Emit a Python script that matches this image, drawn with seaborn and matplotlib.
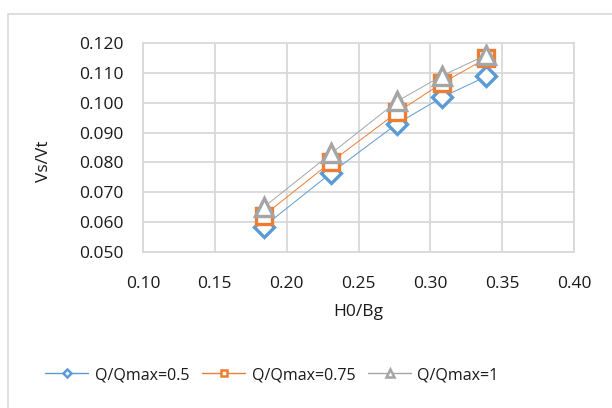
import matplotlib
matplotlib.use("Agg")
import matplotlib.pyplot as plt
import seaborn as sns
import pandas as pd
from matplotlib.lines import Line2D
from matplotlib.patches import Rectangle

# Data
h0_bg = [0.184, 0.231, 0.277, 0.308, 0.339]
q050 = [0.0585, 0.0765, 0.0930, 0.1018, 0.1088]
q075 = [0.0622, 0.0802, 0.0968, 0.1065, 0.1149]
q100 = [0.0650, 0.0830, 0.1005, 0.1090, 0.1160]
series_names = ["Q/Qmax=0.5", "Q/Qmax=0.75", "Q/Qmax=1"]
x_ticks = [0.10, 0.15, 0.20, 0.25, 0.30, 0.35, 0.40]
y_ticks = [0.050, 0.060, 0.070, 0.080, 0.090, 0.100, 0.110, 0.120]

sns.set_theme(style="white")
plt.rcParams["font.family"] = ["Open Sans", "DejaVu Sans"]

colors = ["#5B9BD5", "#ED7D31", "#A5A5A5"]
markers = ["D", "s", "^"]
msizes = [10, 11, 13]
txt = "#1a1a1a"

fig = plt.figure(figsize=(6.12, 4.08), dpi=100)
W, H = 612, 408
ax = fig.add_axes([143 / W, 1 - 252 / H, (574 - 143) / W, (252 - 43) / H])

# chart border
fig.patches.append(Rectangle((7.5 / W, -0.1), 1.2, 1 - 14 / H + 0.1, transform=fig.transFigure,
                             fill=False, edgecolor="#D9D9D9", linewidth=1.2))

for name, vals, c, m, ms in zip(series_names, [q050, q075, q100], colors, markers, msizes):
    df = pd.DataFrame({"x": h0_bg, "y": vals})
    sns.lineplot(data=df, x="x", y="y", ax=ax, color=c, linewidth=0.7, marker=m,
                 markersize=ms, markerfacecolor="white", markeredgecolor=c,
                 markeredgewidth=2.4, legend=False, sort=False)

ax.set_xlim(0.10, 0.40)
ax.set_ylim(0.050, 0.120)
ax.set_xticks(x_ticks)
ax.set_yticks(y_ticks)
ax.set_xticklabels([f"{t:.2f}" for t in x_ticks])
ax.set_yticklabels([f"{t:.3f}" for t in y_ticks])
ax.tick_params(axis="both", length=0, labelsize=12.5, colors=txt)
ax.tick_params(axis="x", pad=17)
ax.tick_params(axis="y", pad=14)
ax.grid(True, color="#D9D9D9", linewidth=1.3)
for s in ax.spines.values():
    s.set_color("#D9D9D9")
    s.set_linewidth(1.3)

ax.set_xlabel("H0/Bg", fontsize=12.5, color=txt)
ax.set_ylabel("Vs/Vt", fontsize=12.5, color=txt)
ax.xaxis.set_label_coords(0.5, -(304 - 252) / (252 - 43))
ax.yaxis.set_label_coords(-(143 - 52) / (574 - 143), (252 - 161) / (252 - 43))

handles = [Line2D([0], [0], color=c, linewidth=1.0, marker=m, markersize=ms,
                  markerfacecolor="white", markeredgecolor=c, markeredgewidth=1.8)
           for c, m, ms in zip(colors, markers, [4.5, 5, 6])]
fig.legend(handles, series_names, loc="center", bbox_to_anchor=(272 / W, 1 - 375 / H),
           ncol=3, frameon=False, fontsize=11.5, handlelength=2.7, columnspacing=0.8,
           handletextpad=0.4, labelcolor=txt)

fig.savefig("out.png", dpi=100, facecolor="white")
